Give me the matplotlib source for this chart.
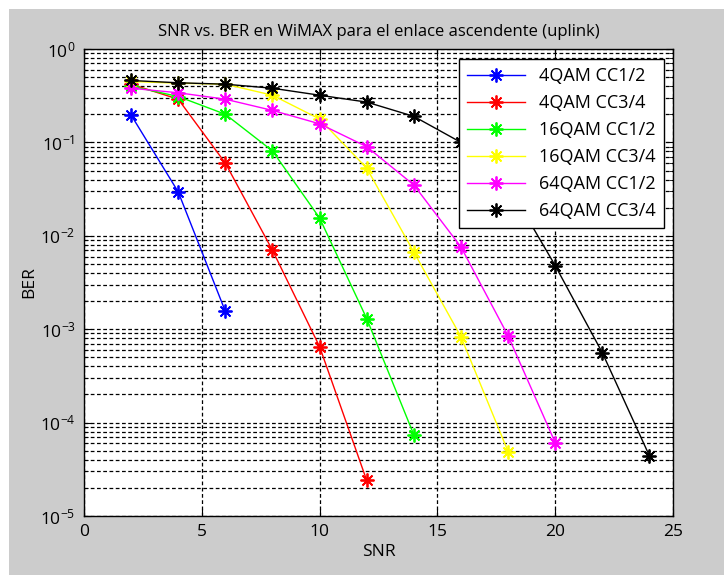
import matplotlib.pyplot as plt
from matplotlib.patches import Rectangle
from matplotlib.ticker import LogLocator, NullFormatter

plt.rcParams['font.family'] = ['Open Sans', 'DejaVu Sans']

# BER curves per modulation / coding rate
snr_4qam_12 = [2, 4, 6]
ber_4qam_12 = [0.196, 0.0295, 1.55e-3]

snr_4qam_34 = [2, 4, 6, 8, 10, 12]
ber_4qam_34 = [0.42, 0.29, 0.06, 0.007, 6.5e-4, 2.4e-5]

snr_16qam_12 = [2, 4, 6, 8, 10, 12, 14]
ber_16qam_12 = [0.40, 0.31, 0.20, 0.081, 0.0155, 1.3e-3, 7.4e-5]

snr_16qam_34 = [2, 4, 6, 8, 10, 12, 14, 16, 18]
ber_16qam_34 = [0.45, 0.43, 0.42, 0.32, 0.178, 0.053, 0.0067, 8.3e-4, 4.9e-5]

snr_64qam_12 = [2, 4, 6, 8, 10, 12, 14, 16, 18, 20]
ber_64qam_12 = [0.38, 0.34, 0.29, 0.22, 0.158, 0.09, 0.035, 0.0076, 8.5e-4, 6.1e-5]

snr_64qam_34 = [2, 4, 6, 8, 10, 12, 14, 16, 18, 20, 22, 24]
ber_64qam_34 = [0.46, 0.435, 0.42, 0.38, 0.32, 0.27, 0.19, 0.10, 0.035, 4.8e-3, 5.6e-4, 4.4e-5]

labels = ['4QAM CC1/2', '4QAM CC3/4', '16QAM CC1/2', '16QAM CC3/4', '64QAM CC1/2', '64QAM CC3/4']
colors = ['#0000ff', '#ff0000', '#00ff00', '#ffff00', '#ff00ff', '#000000']

fig = plt.figure(figsize=(7.24, 5.75), dpi=100, facecolor='white')
fig.patches.append(Rectangle((9 / 724, 0), 1, 1 - 9 / 575, transform=fig.transFigure,
                             facecolor='#cccccc', edgecolor='none', zorder=-10))
ax = fig.add_axes([84 / 724, 59 / 575, 589 / 724, 467 / 575])
ax.set_facecolor('white')

# asterisk marker: 8 arms, like '+' and 'x' together
star = (8, 2, 0)
series = [(snr_4qam_12, ber_4qam_12), (snr_4qam_34, ber_4qam_34),
          (snr_16qam_12, ber_16qam_12), (snr_16qam_34, ber_16qam_34),
          (snr_64qam_12, ber_64qam_12), (snr_64qam_34, ber_64qam_34)]
for (x, y), lab, c in zip(series, labels, colors):
    ax.semilogy(x, y, color=c, marker=star, markersize=10, markeredgewidth=1.3,
                linewidth=1, label=lab)

ax.set_xlim(0, 25)
ax.set_ylim(1e-5, 1)
ax.set_xticks([0, 5, 10, 15, 20, 25])
ax.yaxis.set_major_locator(LogLocator(base=10, numticks=10))
ax.yaxis.set_minor_locator(LogLocator(base=10, subs=range(2, 10), numticks=20))
ax.yaxis.set_minor_formatter(NullFormatter())

ax.grid(True, which='major', axis='both', color='black', linestyle=(0, (3, 2)), linewidth=0.9)
ax.grid(True, which='minor', axis='y', color='black', linestyle=(0, (3, 2)), linewidth=0.9)
ax.set_axisbelow(True)

ax.tick_params(which='both', direction='in', top=True, right=True, labelsize=12.5, colors='black')
ax.tick_params(which='major', length=5, pad=6)
ax.tick_params(which='minor', length=3)
for s in ax.spines.values():
    s.set_linewidth(1)

ax.set_title('SNR vs. BER en WiMAX para el enlace ascendente (uplink)', fontsize=12, pad=9)
ax.set_xlabel('SNR', fontsize=12.5, labelpad=3)
ax.set_ylabel('BER', fontsize=12.5, labelpad=2)

leg = ax.legend(loc='upper right', bbox_to_anchor=(0.985, 0.979), borderaxespad=0,
                fontsize=13, handlelength=3.2, fancybox=False, framealpha=1,
                edgecolor='black', borderpad=0.45, labelspacing=0.5)
leg.get_frame().set_linewidth(1)

fig.savefig('out.png', dpi=100, facecolor=fig.get_facecolor())
